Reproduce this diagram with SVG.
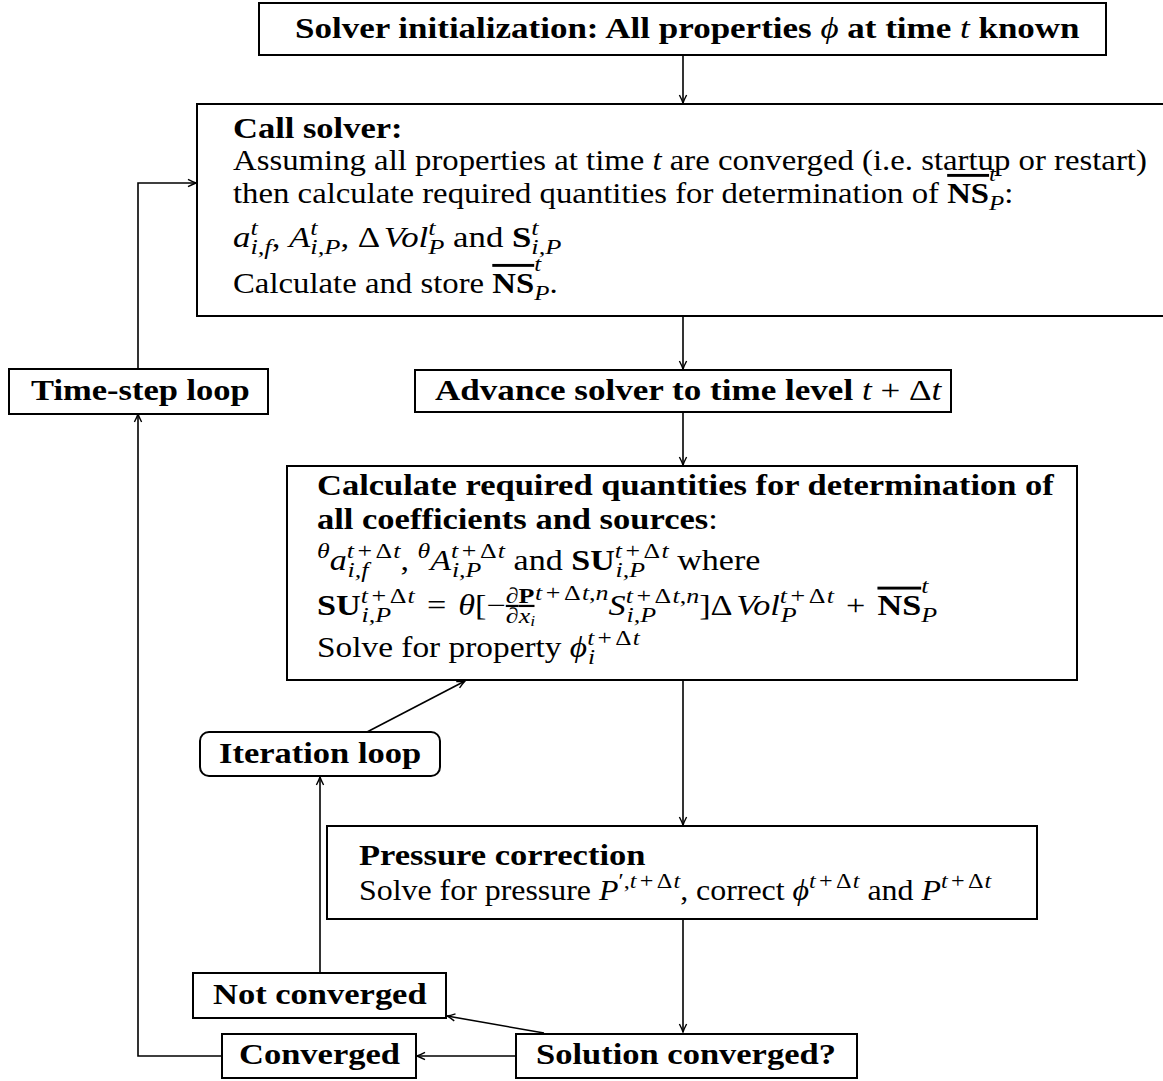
<svg xmlns="http://www.w3.org/2000/svg" width="1163" height="1081" viewBox="0 0 1163 1081">
<style>
text{font-family:"Liberation Serif","Times New Roman",serif;font-size:29px;fill:#000}
.b{font-weight:bold}
.n{font-weight:normal}
.i{font-style:italic}
.s{font-size:22px}
.ss{font-size:15px}
.box{fill:#fff;stroke:#000;stroke-width:2}
.cn{fill:none;stroke:#000;stroke-width:1.6}
.ov{text-decoration:overline}
.ul{text-decoration:underline}
</style>
<defs>
<marker id="ah" viewBox="-10 -6 12 12" refX="0" refY="0" markerWidth="12" markerHeight="12" orient="auto" markerUnits="userSpaceOnUse">
<path d="M-8,-3.6 Q-3,-1 0,0 Q-3,1 -8,3.6" fill="none" stroke="#000" stroke-width="1.4"/>
</marker>
</defs>
<rect width="1163" height="1081" fill="#fff"/>

<g id="connectors">
<path class="cn" d="M683,56 V103" marker-end="url(#ah)"/>
<path class="cn" d="M683,316 V369" marker-end="url(#ah)"/>
<path class="cn" d="M683,412 V465" marker-end="url(#ah)"/>
<path class="cn" d="M683,680 V825" marker-end="url(#ah)"/>
<path class="cn" d="M683,919 V1032" marker-end="url(#ah)"/>
<path class="cn" d="M516,1056 H417" marker-end="url(#ah)"/>
<path class="cn" d="M544,1033 L447,1016" marker-end="url(#ah)"/>
<path class="cn" d="M320,973 V777" marker-end="url(#ah)"/>
<path class="cn" d="M367,732 L465,681" marker-end="url(#ah)"/>
<path class="cn" d="M222,1056 H138 V414" marker-end="url(#ah)"/>
<path class="cn" d="M138,369 V183 H196" marker-end="url(#ah)"/>
</g>

<g id="init">
<rect class="box" x="259" y="3" width="847" height="52"/>
<text class="b" transform="translate(295,38) scale(1.207,1)">Solver initialization: All properties <tspan class="i n">ϕ</tspan> at time <tspan class="i n">t</tspan> known</text>
</g>

<g id="callsolver">
<rect x="197" y="104" width="966" height="212" fill="#fff"/>
<path d="M1163,104 H197 V316 H1163" fill="none" stroke="#000" stroke-width="2"/>
<text class="b" transform="translate(233,138) scale(1.19,1)">Call solver:</text>
<text transform="translate(233,170) scale(1.13,1)">Assuming all properties at time <tspan class="i">t</tspan> are converged (i.e. startup or restart)</text>
<text transform="translate(233,203) scale(1.13,1)">then calculate required quantities for determination of <tspan class="b ov">NS</tspan><tspan class="s i" dy="-22">t</tspan><tspan class="s i" dx="-6.1" dy="29">P</tspan><tspan dy="-7">:</tspan></text>
<text transform="translate(233,247) scale(1.2,1)"><tspan class="i">a</tspan><tspan class="s i" dy="-12">t</tspan><tspan class="s i" dx="-6.1" dy="19">i,f</tspan><tspan dy="-7">, </tspan><tspan class="i">A</tspan><tspan class="s i" dy="-12">t</tspan><tspan class="s i" dx="-6.1" dy="19">i,P</tspan><tspan dy="-7">, Δ</tspan><tspan class="i" dx="3">Vol</tspan><tspan class="s i" dy="-12">t</tspan><tspan class="s i" dx="-6.1" dy="19">P</tspan><tspan dy="-7"> and </tspan><tspan class="b">S</tspan><tspan class="s i" dy="-12">t</tspan><tspan class="s i" dx="-6.1" dy="19">i,P</tspan></text>
<text transform="translate(233,293) scale(1.13,1)">Calculate and store <tspan class="b ov">NS</tspan><tspan class="s i" dy="-22">t</tspan><tspan class="s i" dx="-6.1" dy="29">P</tspan><tspan dy="-7">.</tspan></text>
</g>

<g id="timestep">
<rect class="box" x="9" y="369" width="259" height="45"/>
<text class="b" transform="translate(31,400) scale(1.19,1)">Time-step loop</text>
</g>

<g id="advance">
<rect class="box" x="415" y="370" width="536" height="42"/>
<text class="b" transform="translate(435,400) scale(1.21,1)">Advance solver to time level <tspan class="i n">t</tspan><tspan class="n"> + Δ</tspan><tspan class="i n">t</tspan></text>
</g>

<g id="calculate">
<rect class="box" x="287" y="466" width="790" height="214"/>
<text class="b" transform="translate(317,495) scale(1.19,1)">Calculate required quantities for determination of</text>
<text class="b" transform="translate(317,529) scale(1.19,1)">all coefficients and sources<tspan class="n">:</tspan></text>
<text transform="translate(317,570) scale(1.175,1)"><tspan class="s i" dy="-12">θ</tspan><tspan class="i" dy="12">a</tspan><tspan class="s" dy="-12"><tspan class="i">t</tspan><tspan dx="3">+</tspan><tspan dx="3">Δ</tspan><tspan class="i" dx="1">t</tspan></tspan><tspan class="s i" dx="-45.1" dy="19">i,f</tspan><tspan dx="27.4" dy="-7">, </tspan><tspan class="s i" dy="-12">θ</tspan><tspan class="i" dy="12">A</tspan><tspan class="s" dy="-12"><tspan class="i">t</tspan><tspan dx="3">+</tspan><tspan dx="3">Δ</tspan><tspan class="i" dx="1">t</tspan></tspan><tspan class="s i" dx="-45.1" dy="19">i,P</tspan><tspan dx="20.1" dy="-7"> and </tspan><tspan class="b">SU</tspan><tspan class="s" dy="-12"><tspan class="i">t</tspan><tspan dx="3">+</tspan><tspan dx="3">Δ</tspan><tspan class="i" dx="1">t</tspan></tspan><tspan class="s i" dx="-45.1" dy="19">i,P</tspan><tspan dx="20.1" dy="-7"> where</tspan></text>
<text transform="translate(317,615) scale(1.18,1)"><tspan class="b">SU</tspan><tspan class="s" dy="-12"><tspan class="i">t</tspan><tspan dx="3">+</tspan><tspan dx="3">Δ</tspan><tspan class="i" dx="1">t</tspan></tspan><tspan class="s i" dx="-45.1" dy="19">i,P</tspan><tspan dx="20.1" dy="-7"> </tspan><tspan dx="3">=</tspan><tspan dx="3"> </tspan><tspan class="i">θ</tspan><tspan>[−</tspan><tspan class="s ul" dy="-12">∂<tspan class="b">P</tspan></tspan><tspan class="s" dx="-24.3" dy="20">∂<tspan class="i">x</tspan></tspan><tspan class="ss i" dy="3">i</tspan><tspan class="s" dy="-26"><tspan class="i">t</tspan><tspan dx="3">+</tspan><tspan dx="3">Δ</tspan><tspan class="i" dx="1">t</tspan>,<tspan class="i">n</tspan></tspan><tspan class="i" dy="15">S</tspan><tspan class="s" dy="-12"><tspan class="i">t</tspan><tspan dx="3">+</tspan><tspan dx="3">Δ</tspan><tspan class="i" dx="1">t</tspan>,<tspan class="i">n</tspan></tspan><tspan class="s i" dx="-61.6" dy="19">i,P</tspan><tspan dx="36.6" dy="-7">]Δ</tspan><tspan class="i" dx="3">Vol</tspan><tspan class="s" dy="-12"><tspan class="i">t</tspan><tspan dx="3">+</tspan><tspan dx="3">Δ</tspan><tspan class="i" dx="1">t</tspan></tspan><tspan class="s i" dx="-45.1" dy="19">P</tspan><tspan dx="31.7" dy="-7"> </tspan><tspan dx="3">+</tspan><tspan dx="3"> </tspan><tspan class="b ov">NS</tspan><tspan class="s i" dy="-22">t</tspan><tspan class="s i" dx="-6.1" dy="29">P</tspan></text>
<text transform="translate(317,657) scale(1.15,1)">Solve for property <tspan class="i">ϕ</tspan><tspan class="s" dy="-12"><tspan class="i">t</tspan><tspan dx="3">+</tspan><tspan dx="3">Δ</tspan><tspan class="i" dx="1">t</tspan></tspan><tspan class="s i" dx="-45.1" dy="19">i</tspan></text>
</g>

<g id="iteration">
<rect class="box" x="200" y="732" width="240" height="44" rx="9" ry="9"/>
<text class="b" transform="translate(219,763) scale(1.19,1)">Iteration loop</text>
</g>

<g id="pressure">
<rect class="box" x="327" y="826" width="710" height="93"/>
<text class="b" transform="translate(359,865) scale(1.19,1)">Pressure correction</text>
<text transform="translate(359,900) scale(1.1,1)">Solve for pressure <tspan class="i">P</tspan><tspan class="s" dy="-12">′,<tspan class="i">t</tspan><tspan dx="3">+</tspan><tspan dx="3">Δ</tspan><tspan class="i" dx="1">t</tspan></tspan><tspan dy="12">, correct </tspan><tspan class="i">ϕ</tspan><tspan class="s" dy="-12"><tspan class="i">t</tspan><tspan dx="3">+</tspan><tspan dx="3">Δ</tspan><tspan class="i" dx="1">t</tspan></tspan><tspan dy="12"> and </tspan><tspan class="i">P</tspan><tspan class="s" dy="-12"><tspan class="i">t</tspan><tspan dx="3">+</tspan><tspan dx="3">Δ</tspan><tspan class="i" dx="1">t</tspan></tspan></text>
</g>

<g id="notconverged">
<rect class="box" x="193" y="973" width="253" height="45"/>
<text class="b" transform="translate(213,1004) scale(1.19,1)">Not converged</text>
</g>

<g id="converged">
<rect class="box" x="222" y="1034" width="194" height="44"/>
<text class="b" transform="translate(239,1064) scale(1.19,1)">Converged</text>
</g>

<g id="solution">
<rect class="box" x="516" y="1034" width="341" height="44"/>
<text class="b" transform="translate(536,1064) scale(1.19,1)">Solution converged?</text>
</g>
</svg>
